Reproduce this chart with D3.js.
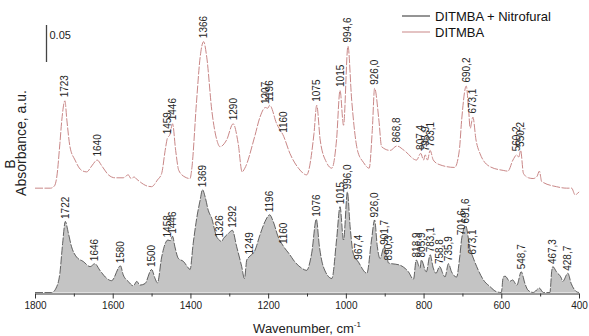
<!DOCTYPE html>
<html>
<head>
<meta charset="utf-8">
<script src="https://cdn.jsdelivr.net/npm/d3@7"></script>
<style>
  html, body { margin: 0; padding: 0; background: #fff; }
  svg { display: block; font-family: Arial, "Liberation Sans", sans-serif; }
</style>
</head>
<body>
<svg id="chart" width="589" height="336"></svg>
<script>
// ---- IR spectra (wavenumber in cm-1, absorbance in a.u.) ----
// DITMBA + Nitrofural (filled, lower trace)
const wnMix = [1800,1757,1744,1736,1729,1722,1714,1706,1693,1676,1658,1646,1633,1615,1603,1580,1573,1560,1547,1538,1530,1517,1500,1491,1485,1474,1465,1458,1452,1446,1440,1431,1418,1405,1401,1393,1384,1375,1369,1362,1354,1345,1333,1326,1320,1315,1302,1292,1281,1268,1261,1255,1249,1234,1221,1208,1196,1187,1174,1160,1144,1135,1114,1101,1088,1076,1068,1058,1036,1024,1015,1006,996,989,981,967.4,946,934,926,919,912,901.7,895,890.3,861,839,826,818.9,809,805.9,793,783.1,775,768,758.8,749,745,735.9,728,715,707,701.6,691.6,680,673.1,659,646,629,612,600,595,590,578,571,560,548.7,539,531,518,502,492,475,470,467.3,458,445,442,428.7,420,406,400];
const absMix = [0.000,0.000,0.008,0.026,0.066,0.096,0.080,0.062,0.048,0.042,0.035,0.039,0.030,0.019,0.016,0.036,0.024,0.015,0.009,0.015,0.010,0.012,0.031,0.019,0.013,0.048,0.066,0.071,0.070,0.076,0.062,0.046,0.042,0.033,0.031,0.066,0.100,0.125,0.139,0.129,0.111,0.100,0.076,0.071,0.069,0.073,0.080,0.084,0.062,0.035,0.019,0.044,0.048,0.057,0.078,0.096,0.105,0.096,0.075,0.062,0.051,0.044,0.033,0.030,0.053,0.099,0.062,0.035,0.019,0.071,0.116,0.071,0.136,0.089,0.053,0.041,0.026,0.071,0.098,0.062,0.046,0.061,0.051,0.040,0.037,0.028,0.018,0.044,0.033,0.044,0.028,0.051,0.033,0.026,0.035,0.024,0.021,0.039,0.028,0.021,0.048,0.074,0.090,0.058,0.048,0.030,0.017,0.008,0.001,0.000,0.021,0.022,0.015,0.017,0.010,0.028,0.012,0.003,0.000,0.006,0.000,0.000,0.030,0.035,0.028,0.019,0.015,0.026,0.012,0.001,0.000];

// DITMBA (upper trace, drawn with a stacking offset)
const wnRef = [1800,1760,1750,1744,1736,1731,1723,1718,1710,1697,1680,1667,1654,1640,1628,1611,1594,1573,1560,1553,1545,1538,1512,1500,1485,1474,1465,1459,1453,1446,1438,1430,1414,1401,1397,1384,1375,1366,1358,1345,1332,1324,1307,1290,1277,1267,1260,1235,1221,1207,1201,1196,1178,1160,1144,1122,1101,1082,1075,1066,1050,1036,1024,1015,1006,994.6,985,970,955,940,932,926,915,908,886,868.8,850,818,807.4,800,795.9,790,783.1,775,760,720,708,702,690.2,684,680,673.1,665,655,629,595,583,570,560.2,555,550.2,543,530,518,508,502,496,458,432,419,410,400];
const absRef = [0.000,0.000,0.003,0.015,0.060,0.092,0.118,0.092,0.056,0.038,0.024,0.022,0.030,0.038,0.030,0.018,0.014,0.014,0.018,0.013,0.015,0.012,0.003,0.002,0.011,0.020,0.051,0.068,0.072,0.087,0.051,0.024,0.015,0.013,0.024,0.119,0.177,0.198,0.177,0.105,0.065,0.056,0.065,0.087,0.060,0.022,0.027,0.069,0.096,0.109,0.108,0.112,0.087,0.070,0.047,0.027,0.018,0.074,0.112,0.065,0.035,0.027,0.065,0.132,0.085,0.192,0.119,0.051,0.035,0.027,0.078,0.135,0.092,0.056,0.051,0.057,0.051,0.038,0.047,0.038,0.045,0.038,0.051,0.038,0.032,0.028,0.051,0.092,0.138,0.105,0.081,0.096,0.065,0.047,0.029,0.024,0.023,0.038,0.045,0.042,0.051,0.020,0.014,0.013,0.016,0.023,0.009,0.002,0.000,0.000,-0.009,-0.005];
const refOffset = 0.141;

// Peak annotations (comma as decimal separator)
const peaksMix = ["1722","1646","1580","1500","1458","1446","1369","1326","1292","1249","1196","1160","1076","1015","996,0","967,4","926,0","901,7","890,3","818,9","805,9","783,1","758,8","735,9","701,6","691,6","673,1","548,7","467,3","428,7"];
const peaksRef = ["1723","1640","1459","1446","1366","1290","1207","1196","1160","1075","1015","994,6","926,0","868,8","807,4","795,9","783,1","690,2","673,1","560,2","550,2"];

// Axis ticks
const majorTicks = [1800,1600,1400,1200,1000,800,600,400];
const minorTicks = [1700,1500,1300,1100,900,700,500];

const seriesNames = ["DITMBA + Nitrofural", "DITMBA"];
const scaleBarValue = 0.05;

// ---- drawing ----
const svg = d3.select("#chart");
const x = d3.scaleLinear().domain([1800, 400]).range([35, 579]);
const y = d3.scaleLinear().domain([0, 0.05]).range([292.5, 255.5]);

const mix = wnMix.map((w, i) => ({ w, a: absMix[i] }));
const ref = wnRef.map((w, i) => ({ w, a: absRef[i] + refOffset }));

const colMix = "#2b2b2b", colFill = "#c4c4c4", colRef = "#c98787";

// filled spectrum
svg.append("path")
  .datum(mix)
  .attr("d", d3.area().x(d => x(d.w)).y0(y(0)).y1(d => y(d.a)).curve(d3.curveMonotoneX))
  .attr("fill", colFill);
svg.append("path")
  .datum(mix)
  .attr("d", d3.line().x(d => x(d.w)).y(d => y(d.a)).curve(d3.curveMonotoneX))
  .attr("fill", "none").attr("stroke", colMix).attr("stroke-width", 0.7)
  .attr("stroke-dasharray", "8,1.5");

// reference spectrum
svg.append("path")
  .datum(ref)
  .attr("d", d3.line().x(d => x(d.w)).y(d => y(d.a)).curve(d3.curveMonotoneX))
  .attr("fill", "none").attr("stroke", colRef).attr("stroke-width", 1)
  .attr("stroke-dasharray", "8,1.5");

// peak labels
function valueAt(data, w) {
  const d = data.find(p => Math.abs(p.w - w) < 1e-6);
  return d ? d.a : 0;
}
function drawPeakLabels(labels, data, gap) {
  svg.append("g").selectAll("text").data(labels).join("text")
    .attr("transform", s => {
      const w = +s.replace(",", ".");
      return `translate(${x(w)},${y(valueAt(data, w)) - gap}) rotate(-90)`;
    })
    .attr("dy", "0.35em")
    .attr("text-anchor", "start")
    .attr("font-size", 10)
    .attr("fill", "#262626")
    .text(s => s);
}
drawPeakLabels(peaksMix, mix, 2.5);
drawPeakLabels(peaksRef, ref, 3.5);

// x axis
const axisY = 293.5;
const gx = svg.append("g").attr("transform", `translate(0,${axisY})`)
  .call(d3.axisBottom(x).tickValues(majorTicks).tickSize(5).tickSizeOuter(0).tickPadding(3).tickFormat(d3.format("d")));
gx.select(".domain").attr("stroke", "#333");
gx.selectAll(".tick line").attr("stroke", "#333");
gx.selectAll(".tick text").attr("font-size", 10).attr("fill", "#222").attr("font-family", "Arial, 'Liberation Sans', sans-serif");
const gm = svg.append("g").attr("transform", `translate(0,${axisY})`)
  .call(d3.axisBottom(x).tickValues(minorTicks).tickSize(3).tickFormat(""));
gm.select(".domain").remove();
gm.selectAll(".tick line").attr("stroke", "#333");

// axis titles
const xt = svg.append("text").attr("x", 307).attr("y", 333).attr("text-anchor", "middle")
  .attr("font-size", 13).attr("fill", "#222");
xt.append("tspan").text("Wavenumber, cm");
xt.append("tspan").attr("dy", -6).attr("font-size", 8).text("-1");

svg.append("text").attr("transform", "translate(21,143) rotate(-90)")
  .attr("text-anchor", "middle").attr("dy", "0.35em")
  .attr("font-size", 14).attr("fill", "#222").text("Absorbance, a.u.");
svg.append("text").attr("transform", "translate(10,164) rotate(-90)")
  .attr("text-anchor", "middle").attr("dy", "0.35em")
  .attr("font-size", 14).attr("fill", "#222").text("B");

// scale bar
const barBase = 0.3115;
svg.append("line").attr("x1", 46.5).attr("x2", 46.5)
  .attr("y1", y(barBase)).attr("y2", y(barBase + scaleBarValue))
  .attr("stroke", "#444").attr("stroke-width", 1.3);
svg.append("text").attr("x", 49.5).attr("y", 35).attr("dy", "0.35em")
  .attr("font-size", 11).attr("fill", "#222").text(scaleBarValue.toFixed(2));

// legend
const legend = svg.append("g");
[colMix, colRef].forEach((c, i) => {
  const ly = 16 + i * 16;
  legend.append("line").attr("x1", 402).attr("x2", 430).attr("y1", ly).attr("y2", ly)
    .attr("stroke", c).attr("stroke-width", 1);
  legend.append("text").attr("x", 435).attr("y", ly).attr("dy", "0.35em")
    .attr("font-size", 13).attr("fill", "#111").text(seriesNames[i]);
});
</script>
</body>
</html>
